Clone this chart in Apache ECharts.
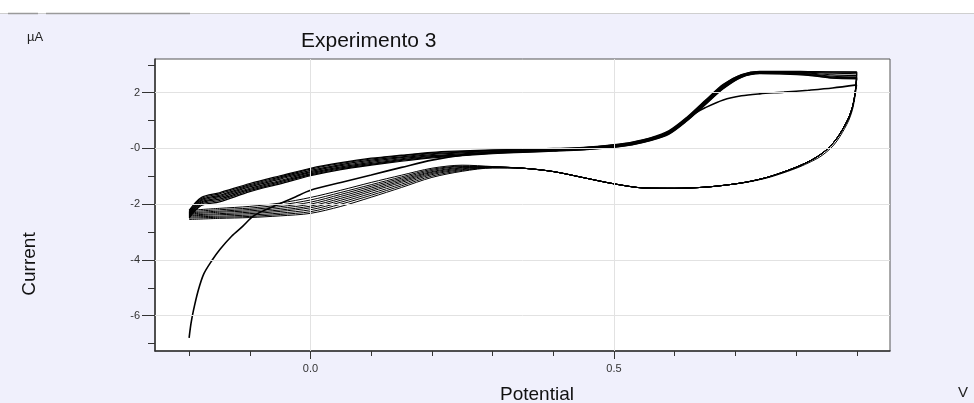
<!DOCTYPE html>
<html>
<head>
<meta charset="utf-8">
<script src="https://cdn.jsdelivr.net/npm/echarts@6/dist/echarts.min.js"></script>
<style>
  html, body { margin: 0; padding: 0; background: #f0f0fc; }
  #chart { width: 974px; height: 403px; }
</style>
</head>
<body>
<div id="chart"></div>
<script>
// Cyclic voltammogram "Experimento 3": potential (V) against current (µA), 9 cycles.

// Axis ticks
const xMajorTicks = [0, 0.5];
const xMinorTicks = [-0.2, -0.1, 0.1, 0.2, 0.3, 0.4, 0.6, 0.7, 0.8, 0.9];
const yMajorTicks = [2, 0, -2, -4, -6];
const yMinorTicks = [3, 1, -1, -3, -5, -7];

// Cycle 1, forward sweep (starts from the rest state at -0.2 V)
const firstFwdPot = [-0.2, -0.197, -0.193, -0.185, -0.176, -0.163, -0.149, -0.13, -0.111, -0.095, -0.078, -0.05, -0.025, 0.0,
  0.05, 0.1, 0.15, 0.2, 0.25, 0.3, 0.35, 0.4, 0.45, 0.5, 0.53, 0.56, 0.59, 0.62, 0.635, 0.65, 0.68, 0.71, 0.74, 0.78, 0.82, 0.86, 0.9];
const firstFwdCur = [-6.8, -6.3, -5.83, -5.1, -4.51, -4.04, -3.62, -3.15, -2.78, -2.44, -2.24, -1.98, -1.74, -1.5,
  -1.22, -0.95, -0.68, -0.42, -0.24, -0.15, -0.1, -0.05, -0.01, 0.08, 0.17, 0.32, 0.55, 1.04, 1.28, 1.46, 1.74, 1.89, 1.96, 2.02, 2.09, 2.17, 2.28];

// Cycles 2-9, forward sweeps
const fwdPot = [-0.2, -0.18, -0.15, -0.1, -0.05, 0.0, 0.05, 0.1, 0.15, 0.2, 0.25, 0.3, 0.35, 0.4,
  0.45, 0.5, 0.53, 0.56, 0.59, 0.62, 0.65, 0.68, 0.71, 0.74, 0.78, 0.82, 0.86, 0.9];
const fwdCycles = [
  [-2.22, -1.76, -1.59, -1.26, -0.98, -0.71, -0.51, -0.35, -0.24, -0.14, -0.09, -0.05, -0.03, 0.00, 0.04, 0.14, 0.23, 0.38, 0.63, 1.12, 1.72, 2.30, 2.65, 2.77, 2.77, 2.76, 2.75, 2.75],
  [-2.27, -1.80, -1.63, -1.30, -1.02, -0.74, -0.54, -0.38, -0.26, -0.16, -0.11, -0.07, -0.04, -0.01, 0.03, 0.13, 0.22, 0.37, 0.61, 1.10, 1.70, 2.28, 2.64, 2.76, 2.76, 2.75, 2.74, 2.73],
  [-2.31, -1.84, -1.68, -1.34, -1.06, -0.79, -0.58, -0.42, -0.30, -0.19, -0.13, -0.09, -0.06, -0.03, 0.02, 0.12, 0.20, 0.35, 0.59, 1.08, 1.67, 2.25, 2.62, 2.75, 2.74, 2.73, 2.70, 2.68],
  [-2.35, -1.88, -1.72, -1.38, -1.10, -0.83, -0.62, -0.46, -0.33, -0.22, -0.16, -0.11, -0.08, -0.05, 0.00, 0.10, 0.19, 0.33, 0.57, 1.06, 1.65, 2.23, 2.61, 2.73, 2.73, 2.70, 2.64, 2.62],
  [-2.39, -1.92, -1.77, -1.43, -1.15, -0.87, -0.66, -0.50, -0.37, -0.26, -0.19, -0.13, -0.10, -0.06, -0.01, 0.08, 0.17, 0.32, 0.55, 1.04, 1.63, 2.21, 2.59, 2.72, 2.71, 2.68, 2.59, 2.57],
  [-2.42, -1.96, -1.82, -1.47, -1.19, -0.91, -0.70, -0.54, -0.40, -0.29, -0.22, -0.15, -0.11, -0.08, -0.03, 0.07, 0.16, 0.31, 0.53, 1.02, 1.60, 2.19, 2.58, 2.71, 2.70, 2.66, 2.56, 2.54],
  [-2.46, -2.00, -1.87, -1.51, -1.23, -0.95, -0.73, -0.57, -0.43, -0.31, -0.24, -0.17, -0.13, -0.09, -0.04, 0.05, 0.14, 0.29, 0.52, 1.00, 1.58, 2.16, 2.56, 2.69, 2.68, 2.64, 2.53, 2.51],
  [-2.50, -2.05, -1.92, -1.55, -1.27, -0.98, -0.76, -0.60, -0.46, -0.34, -0.26, -0.19, -0.14, -0.10, -0.05, 0.04, 0.13, 0.28, 0.50, 0.98, 1.56, 2.14, 2.55, 2.68, 2.67, 2.62, 2.52, 2.50]
];

// Reverse sweeps: shared high-potential part, then the spread-out low-potential part per cycle
const revHeadPot = [0.897, 0.893, 0.887, 0.88, 0.872, 0.862, 0.85, 0.838, 0.825, 0.806, 0.78, 0.752, 0.72, 0.69, 0.65, 0.6, 0.55, 0.5, 0.45, 0.4, 0.35];
const revHeadCurFirst = [1.85, 1.4, 1.02, 0.72, 0.42, 0.12, -0.13, -0.32, -0.47, -0.66, -0.87, -1.06, -1.21, -1.3, -1.39, -1.43, -1.42, -1.27, -1.05, -0.83, -0.71];
const revHeadCur = [1.95, 1.5, 1.12, 0.82, 0.52, 0.22, -0.05, -0.25, -0.42, -0.62, -0.84, -1.04, -1.2, -1.3, -1.39, -1.43, -1.42, -1.27, -1.05, -0.83, -0.71];
const revTailPot = [0.3, 0.25, 0.2, 0.15, 0.1, 0.05, 0.0, -0.05, -0.1, -0.15, -0.2];
const revTails = [
  [-0.65, -0.60, -0.71, -0.96, -1.22, -1.50, -1.76, -1.96, -2.08, -2.15, -2.22],
  [-0.66, -0.63, -0.75, -1.02, -1.30, -1.58, -1.85, -2.03, -2.14, -2.20, -2.27],
  [-0.66, -0.65, -0.79, -1.07, -1.36, -1.65, -1.93, -2.09, -2.19, -2.25, -2.31],
  [-0.67, -0.68, -0.83, -1.12, -1.42, -1.72, -2.00, -2.15, -2.24, -2.29, -2.35],
  [-0.67, -0.70, -0.86, -1.17, -1.48, -1.79, -2.07, -2.21, -2.29, -2.34, -2.39],
  [-0.68, -0.73, -0.90, -1.22, -1.54, -1.86, -2.13, -2.26, -2.34, -2.38, -2.42],
  [-0.69, -0.76, -0.94, -1.28, -1.61, -1.93, -2.20, -2.32, -2.39, -2.43, -2.46],
  [-0.69, -0.79, -0.99, -1.34, -1.68, -2.00, -2.27, -2.37, -2.44, -2.47, -2.50],
  [-0.70, -0.82, -1.04, -1.40, -1.75, -2.08, -2.33, -2.42, -2.48, -2.51, -2.55]
];

// Visible axis range
const X_MIN = -0.2562, X_MAX = 0.9547;
const Y_MIN = -7.27, Y_MAX = 3.21;

const pair = (pots, curs) => pots.map((p, i) => [p, curs[i]]);
const FONT = '"Liberation Sans", Arial, sans-serif';

const curveSeries = [];
function addCurve(data, width) {
  curveSeries.push({
    type: 'line', data, showSymbol: false, smooth: 0.3, z: 3,
    lineStyle: { color: '#000', width }, silent: true, animation: false
  });
}

// forward ends feed each reverse start
const fwdEnds = [firstFwdCur[firstFwdCur.length - 1]].concat(fwdCycles.map(r => r[r.length - 1]));
addCurve(pair(firstFwdPot, firstFwdCur), 1.6);
fwdCycles.forEach(row => addCurve(pair(fwdPot, row), 1.2));
revTails.forEach((tail, k) => {
  const head = k === 0 ? revHeadCurFirst : revHeadCur;
  const pots = [0.9].concat(revHeadPot, revTailPot);
  const curs = [fwdEnds[k]].concat(head, tail);
  addCurve(pair(pots, curs), 1.0);
});

// grid lines at the labelled ticks
const gridSeries = {
  type: 'line', data: [], z: 1, silent: true, animation: false,
  markLine: {
    silent: true, animation: false, symbol: ['none', 'none'],
    label: { show: false },
    lineStyle: { color: '#e2e2e2', type: 'solid', width: 1 },
    data: xMajorTicks.map(v => ({ xAxis: v })).concat(yMajorTicks.map(v => ({ yAxis: v })))
  }
};

const axisColor = '#333';
const chart = echarts.init(document.getElementById('chart'), null, { renderer: 'canvas' });
chart.setOption({
  animation: false,
  backgroundColor: '#f0f0fc',
  title: {
    text: 'Experimento 3', left: 301, top: 31, padding: 0,
    textStyle: { fontFamily: FONT, fontSize: 21, fontWeight: 'normal', color: '#111' }
  },
  grid: {
    left: 155, top: 59, width: 735, height: 292,
    show: true, backgroundColor: '#fff', borderColor: '#555', borderWidth: 1,
    outerBoundsMode: 'none'
  },
  xAxis: [
    {
      type: 'value', min: X_MIN, max: X_MAX, position: 'bottom',
      axisLine: { show: true, onZero: false, lineStyle: { color: axisColor, width: 1.5 } },
      axisTick: { show: true, customValues: xMinorTicks, length: 5, lineStyle: { color: axisColor } },
      axisLabel: { show: false }, splitLine: { show: false }
    },
    {
      type: 'value', min: X_MIN, max: X_MAX, position: 'bottom',
      axisLine: { show: false, onZero: false },
      axisTick: { show: true, customValues: xMajorTicks, length: 8, lineStyle: { color: axisColor } },
      axisLabel: {
        show: true, customValues: xMajorTicks, margin: 12,
        formatter: v => v.toFixed(1),
        fontFamily: FONT, fontSize: 11, color: '#333'
      },
      splitLine: { show: false }
    }
  ],
  yAxis: [
    {
      type: 'value', min: Y_MIN, max: Y_MAX, position: 'left',
      axisLine: { show: true, onZero: false, lineStyle: { color: axisColor, width: 1.5 } },
      axisTick: { show: true, customValues: yMinorTicks, length: 7, lineStyle: { color: axisColor } },
      axisLabel: { show: false }, splitLine: { show: false }
    },
    {
      type: 'value', min: Y_MIN, max: Y_MAX, position: 'left',
      axisLine: { show: false, onZero: false },
      axisTick: { show: true, customValues: yMajorTicks, length: 13, lineStyle: { color: axisColor } },
      axisLabel: {
        show: true, customValues: yMajorTicks, margin: 15,
        formatter: v => (v === 0 ? '-0' : String(v)),
        fontFamily: FONT, fontSize: 11, color: '#333'
      },
      splitLine: { show: false }
    }
  ],
  series: [gridSeries].concat(curveSeries),
  graphic: [
    { type: 'rect', shape: { x: 0, y: 0, width: 974, height: 13 }, style: { fill: '#fff' }, silent: true, z: 0 },
    { type: 'line', shape: { x1: 0, y1: 13.5, x2: 974, y2: 13.5 }, style: { stroke: '#cfcfcf', lineWidth: 1.2 }, silent: true },
    { type: 'line', shape: { x1: 8, y1: 13.5, x2: 38, y2: 13.5 }, style: { stroke: '#9a9a9a', lineWidth: 1.5 }, silent: true },
    { type: 'line', shape: { x1: 46, y1: 13.5, x2: 190, y2: 13.5 }, style: { stroke: '#9a9a9a', lineWidth: 1.5 }, silent: true },
    { type: 'text', left: 27, top: 31, style: { text: 'µA', font: '13px ' + FONT, fill: '#222' }, silent: true },
    { type: 'text', x: 30, y: 264, rotation: Math.PI / 2,
      style: { text: 'Current', font: '19px ' + FONT, fill: '#111', align: 'center', verticalAlign: 'middle' }, silent: true },
    { type: 'text', x: 537, y: 395,
      style: { text: 'Potential', font: '19px ' + FONT, fill: '#111', align: 'center', verticalAlign: 'middle' }, silent: true },
    { type: 'text', x: 963, y: 393,
      style: { text: 'V', font: '15px ' + FONT, fill: '#222', align: 'center', verticalAlign: 'middle' }, silent: true }
  ]
});
</script>
</body>
</html>
